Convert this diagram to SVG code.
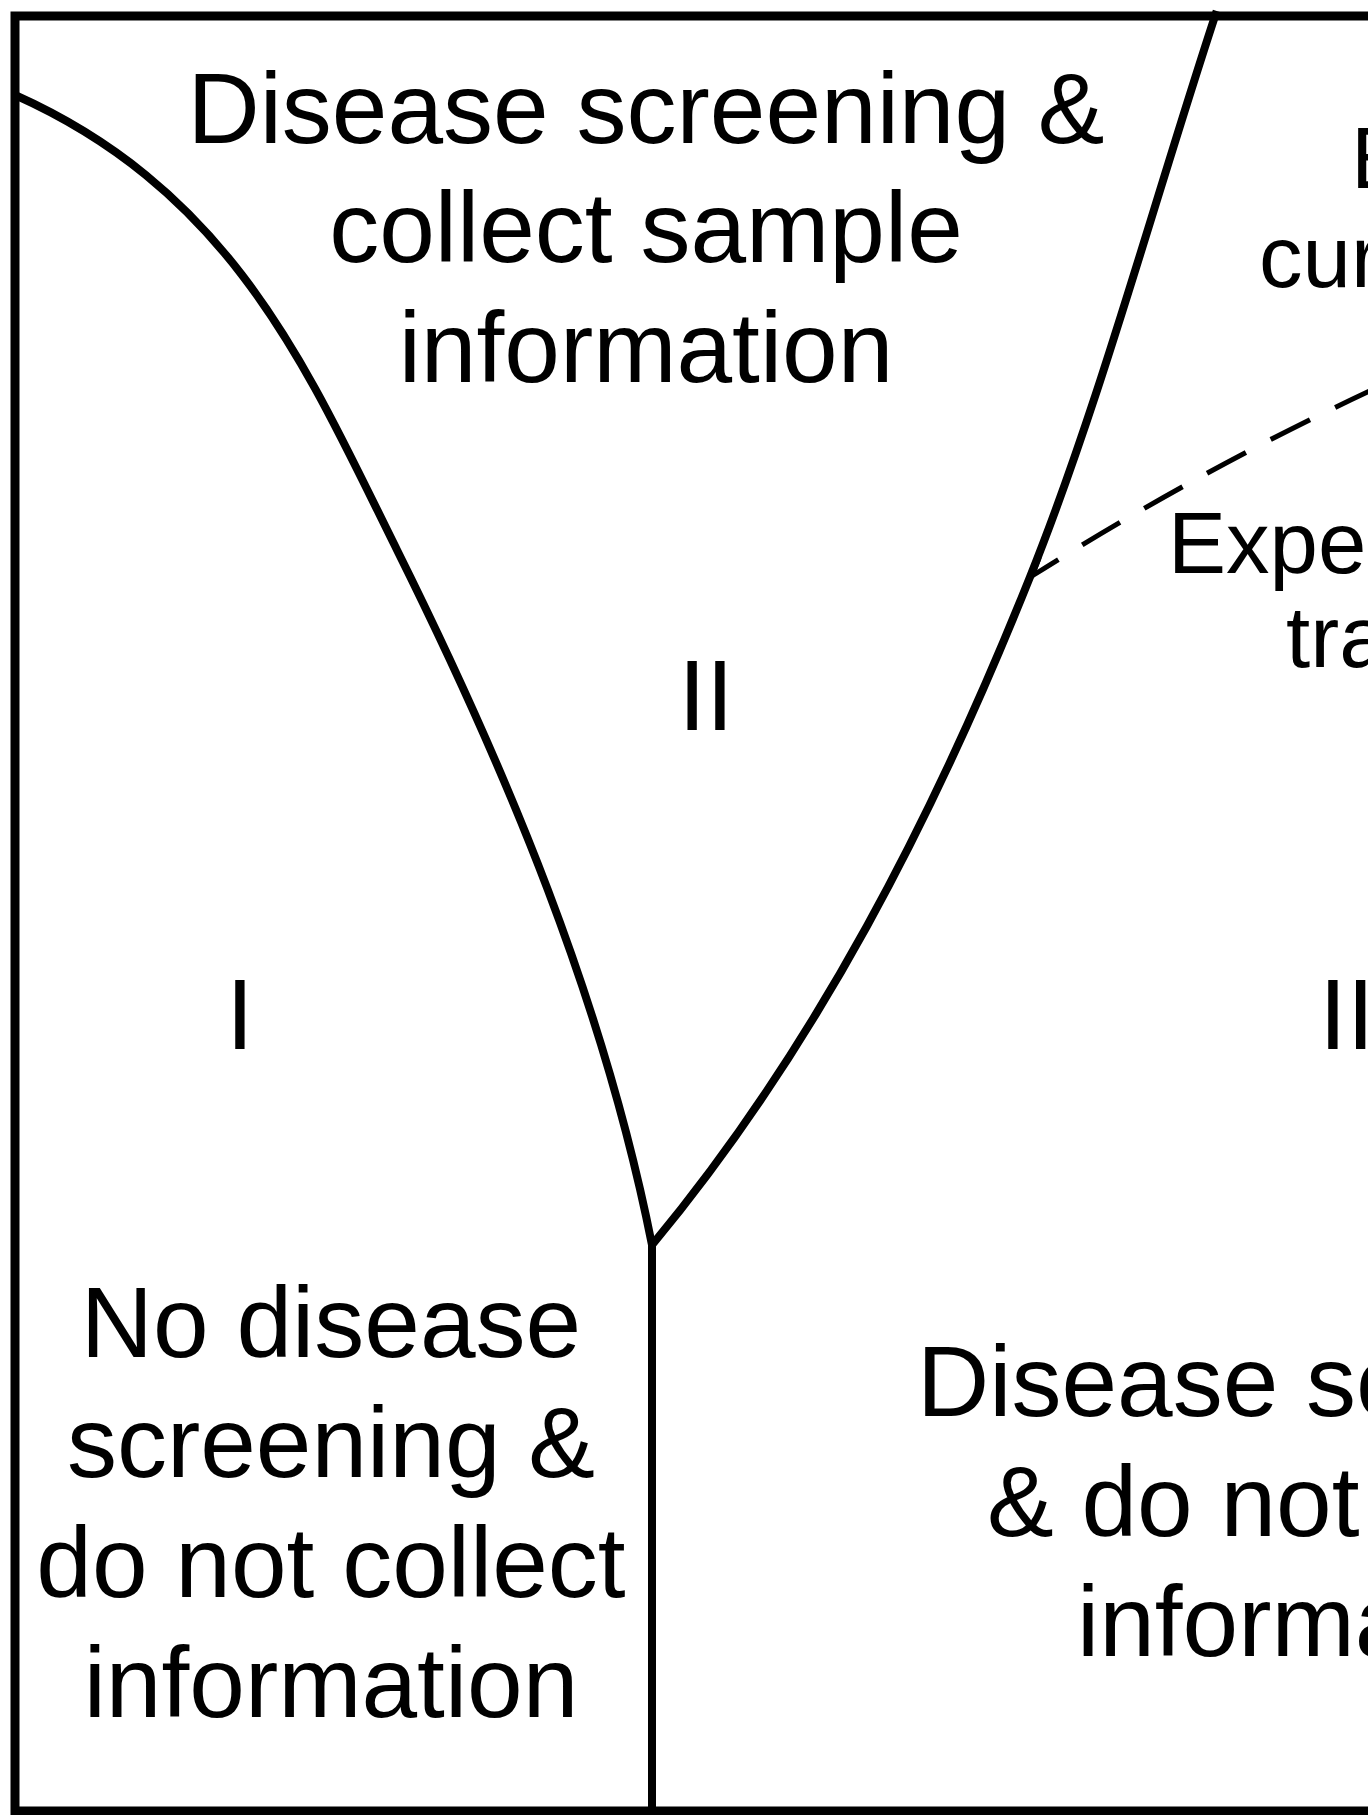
<svg xmlns="http://www.w3.org/2000/svg" width="1368" height="1815" viewBox="0 0 1368 1815">
<style>
  .bd { fill: none; stroke: #000; stroke-width: 9; }
  .ln { fill: none; stroke: #000; stroke-width: 8; stroke-linejoin: miter; }
  .dash { fill: none; stroke: #000; stroke-width: 5; stroke-dasharray: 44 28; stroke-dashoffset: 13; }
  .big { font-family: "Liberation Sans", Arial, sans-serif; font-size: 100px; fill: #000; }
  .mid { font-family: "Liberation Sans", Arial, sans-serif; font-size: 87px; fill: #000; }
</style>
<defs>
  <marker id="tip" markerUnits="userSpaceOnUse" markerWidth="40" markerHeight="40" refX="0" refY="20" orient="auto" overflow="visible">
    <path d="M0,20 L15,9" fill="none" stroke="#000" stroke-width="5" stroke-linecap="round"/>
  </marker>
</defs>
<rect width="1368" height="1815" fill="#fff"/>

<g id="connectors">
  <path id="frame" class="bd" d="M1375,16 H15 V1811 H1375"/>
  <path id="left-boundary" class="ln" d="M15,95 C234,193 308,371 397,550 C507,771 604,1003 652,1245 L652,1820"/>
  <path id="right-boundary" class="ln" d="M1216.7,11 C1154,201 1100.5,400.7 1030,577 C935,814.6 816,1048 652,1245"/>
  <path id="expected-trajectory" class="dash" marker-start="url(#tip)" d="M1032,576 Q1200,470 1376,388"/>
</g>

<g id="region-II-top">
  <text class="big" text-anchor="middle" x="646" y="143">Disease screening &amp;</text>
  <text class="big" text-anchor="middle" x="646" y="262">collect sample</text>
  <text class="big" text-anchor="middle" x="646" y="382">information</text>
  <text class="big" text-anchor="middle" x="706" y="730">II</text>
</g>

<g id="region-I">
  <text class="big" text-anchor="middle" x="240" y="1049">I</text>
  <text class="big" text-anchor="middle" x="331" y="1357">No disease</text>
  <text class="big" text-anchor="middle" x="331" y="1477">screening &amp;</text>
  <text class="big" text-anchor="middle" x="331" y="1597">do not collect</text>
  <text class="big" text-anchor="middle" x="331" y="1717">information</text>
</g>

<g id="region-right">
  <text class="mid" x="1351" y="188">E</text>
  <text class="mid" x="1259" y="287">cur</text>
  <text class="mid" x="1168" y="573">Expec</text>
  <text class="mid" x="1286" y="667">tra</text>
  <text class="big" x="1319" y="1049">II</text>
  <text class="big" x="917" y="1416">Disease sc</text>
  <text class="big" x="987" y="1536">&amp; do not</text>
  <text class="big" x="1077" y="1656">informa</text>
</g>
</svg>
